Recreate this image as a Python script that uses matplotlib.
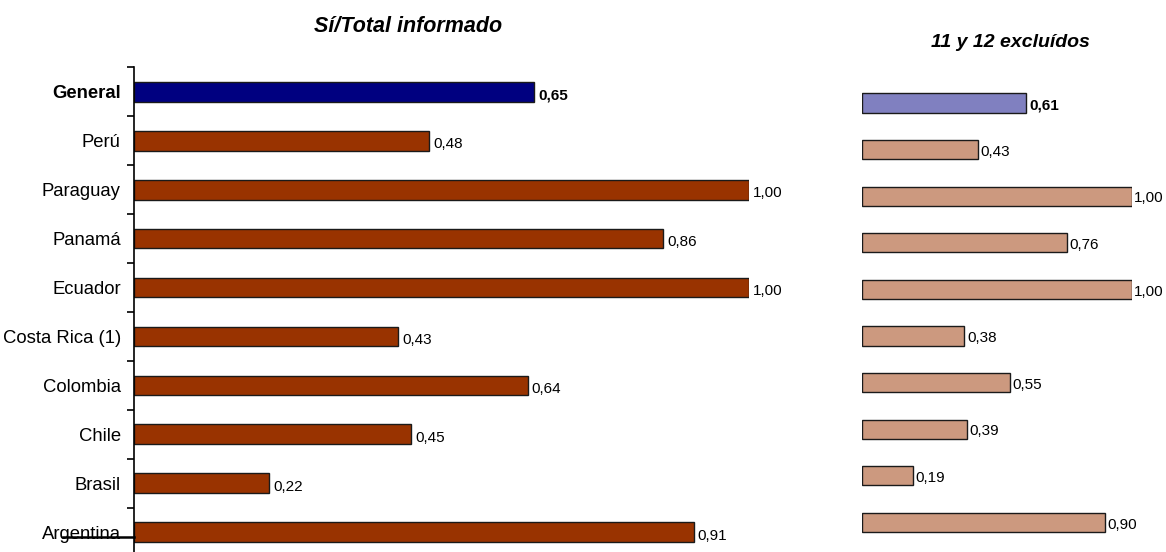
import matplotlib
matplotlib.use("Agg")
import matplotlib.pyplot as plt
import matplotlib.transforms as mtransforms

plt.rcParams['font.family'] = ['Liberation Sans', 'DejaVu Sans']

# Datos: proporción Sí / total informado por país
paises = ["General", "Perú", "Paraguay", "Panamá", "Ecuador",
          "Costa Rica (1)", "Colombia", "Chile", "Brasil", "Argentina"]
total_informado = [0.65, 0.48, 1.00, 0.86, 1.00, 0.43, 0.64, 0.45, 0.22, 0.91]
excluidos_11_12 = [0.61, 0.43, 1.00, 0.76, 1.00, 0.38, 0.55, 0.39, 0.19, 0.90]

W, H = 1166, 552
fig = plt.figure(figsize=(W / 100, H / 100), dpi=100)

n = len(paises)
pos = list(range(n))


def fmt(v):
    return f"{v:.2f}".replace(".", ",")


# --- Panel izquierdo: Sí/Total informado ---
top, bottom = 67.5, 556.5
ax1 = fig.add_axes([134 / W, 1 - bottom / H, (749 - 134) / W, (bottom - top) / H])
colores1 = ["#000080"] + ["#993300"] * (n - 1)
ax1.barh(pos, total_informado, height=0.4, color=colores1,
         edgecolor="#1a1a1a", linewidth=1.0)
ax1.set_xlim(0, 1.0)
ax1.set_ylim(n - 0.5, -0.5)
ax1.set_yticks(pos)
ax1.set_yticklabels(paises, fontsize=13.3)
ax1.get_yticklabels()[0].set_fontweight("bold")
ax1.set_yticks([p - 0.5 for p in pos], minor=True)
ax1.tick_params(axis="y", which="major", length=0, pad=9.5)
ax1.tick_params(axis="y", which="minor", length=5, width=1.2, direction="out")
ax1.set_xticks([])
for s in ["top", "right", "bottom"]:
    ax1.spines[s].set_visible(False)
ax1.spines["left"].set_linewidth(1.2)

for i, v in enumerate(total_informado):
    ax1.annotate(fmt(v), (v, i), xytext=(3, -2.5), textcoords="offset points",
                 va="center", ha="left", fontsize=11,
                 fontweight="bold" if i == 0 else "normal")

# trazo horizontal que cruza la etiqueta de Argentina
trans = mtransforms.blended_transform_factory(ax1.transAxes, ax1.transData)
ax1.plot([-0.115, 0], [n - 1 + 0.1, n - 1 + 0.1], color="black", lw=1.8,
         transform=trans, clip_on=False)

fig.text(408 / W, 1 - 32 / H, "Sí/Total informado", ha="center", va="baseline",
         fontsize=15.5, fontweight="bold", fontstyle="italic")

# --- Panel derecho: 11 y 12 excluídos ---
step = 46.6
top2 = 103 - step / 2
bottom2 = 522.5 + step / 2
ax2 = fig.add_axes([861.5 / W, 1 - bottom2 / H, 270 / W, (bottom2 - top2) / H])
colores2 = ["#8080C0"] + ["#CC997F"] * (n - 1)
ax2.barh(pos, excluidos_11_12, height=0.41, color=colores2,
         edgecolor="#1a1a1a", linewidth=1.0)
ax2.set_xlim(0, 1.0)
ax2.set_ylim(n - 0.5, -0.5)
ax2.axis("off")

for i, v in enumerate(excluidos_11_12):
    ax2.annotate(fmt(v), (v, i), xytext=(2, -1.5), textcoords="offset points",
                 va="center", ha="left", fontsize=11,
                 fontweight="bold" if i == 0 else "normal")

fig.text(1010 / W, 1 - 47 / H, "11 y 12 excluídos", ha="center", va="baseline",
         fontsize=14, fontweight="bold", fontstyle="italic")

fig.savefig("out.png", dpi=100)
